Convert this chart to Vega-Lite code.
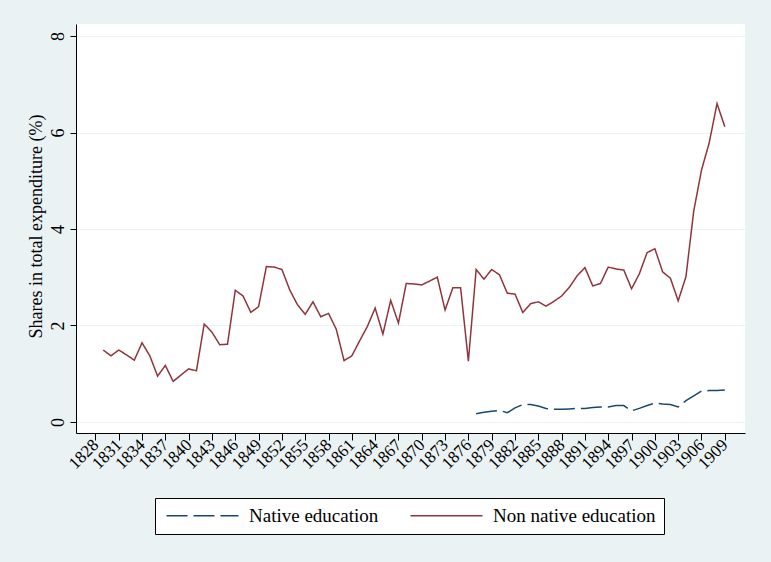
{
  "$schema": "https://vega.github.io/schema/vega-lite/v6.json",
  "autosize": "none",
  "width": 669,
  "height": 409,
  "padding": {"left": 76, "top": 24, "right": 26, "bottom": 129},
  "background": "#eaf2f3",
  "data": {
    "values": [
      {"year": 1829, "Non native education": 1.49},
      {"year": 1830, "Non native education": 1.37},
      {"year": 1831, "Non native education": 1.49},
      {"year": 1832, "Non native education": 1.39},
      {"year": 1833, "Non native education": 1.28},
      {"year": 1834, "Non native education": 1.64},
      {"year": 1835, "Non native education": 1.37},
      {"year": 1836, "Non native education": 0.95},
      {"year": 1837, "Non native education": 1.17},
      {"year": 1838, "Non native education": 0.84},
      {"year": 1839, "Non native education": 0.97},
      {"year": 1840, "Non native education": 1.1},
      {"year": 1841, "Non native education": 1.06},
      {"year": 1842, "Non native education": 2.03},
      {"year": 1843, "Non native education": 1.86},
      {"year": 1844, "Non native education": 1.6},
      {"year": 1845, "Non native education": 1.61},
      {"year": 1846, "Non native education": 2.73},
      {"year": 1847, "Non native education": 2.61},
      {"year": 1848, "Non native education": 2.27},
      {"year": 1849, "Non native education": 2.39},
      {"year": 1850, "Non native education": 3.22},
      {"year": 1851, "Non native education": 3.21},
      {"year": 1852, "Non native education": 3.16},
      {"year": 1853, "Non native education": 2.74},
      {"year": 1854, "Non native education": 2.43},
      {"year": 1855, "Non native education": 2.23},
      {"year": 1856, "Non native education": 2.49},
      {"year": 1857, "Non native education": 2.18},
      {"year": 1858, "Non native education": 2.25},
      {"year": 1859, "Non native education": 1.92},
      {"year": 1860, "Non native education": 1.27},
      {"year": 1861, "Non native education": 1.37},
      {"year": 1862, "Non native education": 1.68},
      {"year": 1863, "Non native education": 1.98},
      {"year": 1864, "Non native education": 2.36},
      {"year": 1865, "Non native education": 1.82},
      {"year": 1866, "Non native education": 2.52},
      {"year": 1867, "Non native education": 2.05},
      {"year": 1868, "Non native education": 2.87},
      {"year": 1869, "Non native education": 2.86},
      {"year": 1870, "Non native education": 2.84},
      {"year": 1871, "Non native education": 2.92},
      {"year": 1872, "Non native education": 3.0},
      {"year": 1873, "Non native education": 2.32},
      {"year": 1874, "Non native education": 2.78},
      {"year": 1875, "Non native education": 2.78},
      {"year": 1876, "Non native education": 1.26},
      {"year": 1877, "Non native education": 3.16, "Native education": 0.17},
      {"year": 1878, "Non native education": 2.96, "Native education": 0.2},
      {"year": 1879, "Non native education": 3.16, "Native education": 0.22},
      {"year": 1880, "Non native education": 3.05, "Native education": 0.24},
      {"year": 1881, "Non native education": 2.67, "Native education": 0.19},
      {"year": 1882, "Non native education": 2.65, "Native education": 0.29},
      {"year": 1883, "Non native education": 2.27, "Native education": 0.36},
      {"year": 1884, "Non native education": 2.45, "Native education": 0.36},
      {"year": 1885, "Non native education": 2.49, "Native education": 0.33},
      {"year": 1886, "Non native education": 2.4, "Native education": 0.28},
      {"year": 1887, "Non native education": 2.5, "Native education": 0.26},
      {"year": 1888, "Non native education": 2.61, "Native education": 0.26},
      {"year": 1889, "Non native education": 2.79, "Native education": 0.27},
      {"year": 1890, "Non native education": 3.03, "Native education": 0.28},
      {"year": 1891, "Non native education": 3.2, "Native education": 0.28},
      {"year": 1892, "Non native education": 2.82, "Native education": 0.3},
      {"year": 1893, "Non native education": 2.87, "Native education": 0.31},
      {"year": 1894, "Non native education": 3.21, "Native education": 0.31},
      {"year": 1895, "Non native education": 3.17, "Native education": 0.34},
      {"year": 1896, "Non native education": 3.15, "Native education": 0.34},
      {"year": 1897, "Non native education": 2.76, "Native education": 0.23},
      {"year": 1898, "Non native education": 3.07, "Native education": 0.28},
      {"year": 1899, "Non native education": 3.51, "Native education": 0.34},
      {"year": 1900, "Non native education": 3.59, "Native education": 0.39},
      {"year": 1901, "Non native education": 3.11, "Native education": 0.37},
      {"year": 1902, "Non native education": 2.98, "Native education": 0.36},
      {"year": 1903, "Non native education": 2.51, "Native education": 0.31},
      {"year": 1904, "Non native education": 3.01, "Native education": 0.44},
      {"year": 1905, "Non native education": 4.37, "Native education": 0.54},
      {"year": 1906, "Non native education": 5.22, "Native education": 0.64},
      {"year": 1907, "Non native education": 5.79, "Native education": 0.65},
      {"year": 1908, "Non native education": 6.6, "Native education": 0.65},
      {"year": 1909, "Non native education": 6.12, "Native education": 0.66}
    ]
  },
  "transform": [
    {"fold": ["Native education", "Non native education"], "as": ["series", "share"]},
    {"filter": "isValid(datum.share)"}
  ],
  "mark": {"type": "line", "strokeWidth": 1.5},
  "encoding": {
    "x": {
      "field": "year",
      "type": "quantitative",
      "scale": {"domain": [1825.5, 1911.6], "nice": false, "zero": false},
      "axis": {
        "title": null,
        "values": [1828, 1831, 1834, 1837, 1840, 1843, 1846, 1849, 1852, 1855, 1858, 1861, 1864, 1867, 1870, 1873, 1876, 1879, 1882, 1885, 1888, 1891, 1894, 1897, 1900, 1903, 1906, 1909],
        "format": "d",
        "labelAngle": -45,
        "labelAlign": "right",
        "labelBaseline": "middle",
        "labelFontSize": 17,
        "labelPadding": 2,
        "labelOverlap": false,
        "labelBound": false,
        "labelFlush": false,
        "tickSize": 7,
        "grid": false
      }
    },
    "y": {
      "field": "share",
      "type": "quantitative",
      "scale": {"domain": [-0.23, 8.25], "nice": false, "zero": false},
      "axis": {
        "title": "Shares in total expenditure (%)",
        "values": [0, 2, 4, 6, 8],
        "labelAngle": -90,
        "labelAlign": "center",
        "labelBaseline": "bottom",
        "labelFontSize": 18,
        "labelPadding": 3,
        "labelOverlap": false,
        "labelFlush": false,
        "tickSize": 6,
        "titleFontSize": 18,
        "titleX": -35,
        "titleY": 202,
        "titleAngle": -90,
        "titleAlign": "center",
        "titleBaseline": "alphabetic",
        "grid": true
      }
    },
    "color": {
      "field": "series",
      "type": "nominal",
      "scale": {"domain": ["Native education", "Non native education"], "range": ["#1a476f", "#90353b"]},
      "legend": {
        "title": null,
        "orient": "none",
        "legendX": 79,
        "legendY": 474,
        "direction": "horizontal",
        "symbolType": "M-1,0H11",
        "symbolSize": 144,
        "symbolStrokeWidth": 1.5,
        "labelFontSize": 19,
        "labelOffset": 67,
        "columnPadding": 28,
        "padding": 8,
        "fillColor": "white",
        "strokeColor": "black",
        "labelLimit": 400
      }
    },
    "strokeDash": {
      "field": "series",
      "type": "nominal",
      "scale": {"domain": ["Native education", "Non native education"], "range": [[21, 6], [1, 0]]},
      "legend": null
    }
  },
  "config": {
    "font": "Liberation Serif",
    "view": {"fill": "white", "stroke": null},
    "axis": {
      "domainColor": "black",
      "domainWidth": 1,
      "tickColor": "black",
      "tickWidth": 1,
      "labelColor": "black",
      "titleColor": "black",
      "labelFont": "Liberation Serif",
      "titleFont": "Liberation Serif",
      "titleFontWeight": "normal",
      "gridColor": "#eaf2f3",
      "gridWidth": 1.2,
      "gridOpacity": 1
    },
    "legend": {"labelFont": "Liberation Serif", "labelColor": "black"}
  }
}
